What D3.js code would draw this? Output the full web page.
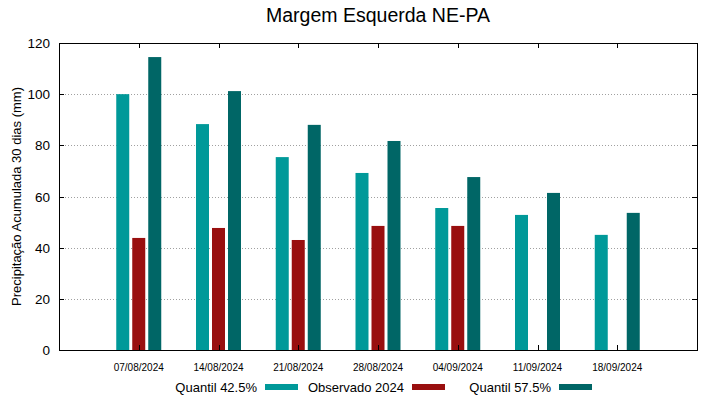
<!DOCTYPE html>
<html>
<head>
<meta charset="utf-8">
<script src="https://cdn.jsdelivr.net/npm/d3@7"></script>
<style>
body { margin: 0; background: #fff; }
text { font-family: "Liberation Sans", Arial, sans-serif; fill: #000; }
</style>
</head>
<body>
<script>
var width = 719,
    height = 399;

var datas = ["07/08/2024", "14/08/2024", "21/08/2024", "28/08/2024", "04/09/2024", "11/09/2024", "18/09/2024"];
var q425 = [100, 88.3, 75.4, 69.2, 55.5, 52.8, 45];
var obs2024 = [43.8, 47.7, 43, 48.5, 48.5, null, null];
var q575 = [114.5, 101.2, 88, 81.7, 67.6, 61.4, 53.6];
var yticks = [0, 20, 40, 60, 80, 100, 120];

var plotL = 59, plotR = 697, plotT = 43, plotB = 350;

var xscale = d3.scaleLinear().domain([-1, 7]).range([plotL, plotR]);
var yscale = d3.scaleLinear().domain([0, 120]).range([plotB, plotT]);

var svg = d3.select("body").append("svg")
    .attr("width", width)
    .attr("height", height);

// grid
svg.append("g").selectAll("line")
    .data(yticks.filter(function(d) { return d > 0 && d < 120; }))
    .enter().append("line")
    .attr("x1", plotL).attr("x2", plotR)
    .attr("y1", function(d) { return Math.round(yscale(d)) + 0.5; })
    .attr("y2", function(d) { return Math.round(yscale(d)) + 0.5; })
    .attr("stroke", "#a0a0a0")
    .attr("stroke-width", 1)
    .attr("stroke-dasharray", "1,2");

var series = [
    { name: "Quantil 42.5%", values: q425, color: "#009999", off: -16 },
    { name: "Observado 2024", values: obs2024, color: "#990f0f", off: 0 },
    { name: "Quantil 57.5%", values: q575, color: "#006666", off: 16 }
];
var bw = 13;

series.forEach(function(s) {
    svg.append("g").selectAll("rect")
        .data(s.values.map(function(v, i) { return { v: v, i: i }; }).filter(function(d) { return d.v != null; }))
        .enter().append("rect")
        .attr("x", function(d) { return xscale(d.i) + s.off - bw / 2; })
        .attr("y", function(d) { return yscale(d.v); })
        .attr("width", bw)
        .attr("height", function(d) { return yscale(0) - yscale(d.v); })
        .attr("fill", s.color);
});

// ticks (inward, mirrored)
var tk = svg.append("g").attr("stroke", "#000").attr("stroke-width", 1);
datas.forEach(function(d, i) {
    var x = Math.round(xscale(i)) + 0.5;
    tk.append("line").attr("x1", x).attr("x2", x).attr("y1", plotT).attr("y2", plotT + 5);
    tk.append("line").attr("x1", x).attr("x2", x).attr("y1", plotB).attr("y2", plotB - 5);
});
yticks.forEach(function(v) {
    var y = Math.round(yscale(v)) + 0.5;
    tk.append("line").attr("x1", plotL).attr("x2", plotL + 5).attr("y1", y).attr("y2", y);
    tk.append("line").attr("x1", plotR).attr("x2", plotR - 5).attr("y1", y).attr("y2", y);
});

// frame
svg.append("rect")
    .attr("x", plotL + 0.5).attr("y", plotT + 0.5)
    .attr("width", plotR - plotL).attr("height", plotB - plotT)
    .attr("fill", "none").attr("stroke", "#000").attr("stroke-width", 1);

// y labels
svg.append("g").selectAll("text")
    .data(yticks).enter().append("text")
    .attr("x", 50)
    .attr("y", function(d) { return yscale(d) + 5; })
    .attr("text-anchor", "end")
    .style("font-size", "13.5px")
    .text(function(d) { return d; });

// x labels
svg.append("g").selectAll("text")
    .data(datas).enter().append("text")
    .attr("x", function(d, i) { return xscale(i); })
    .attr("y", 371)
    .attr("text-anchor", "middle")
    .style("font-size", "10px")
    .text(function(d) { return d; });

svg.append("text")
    .attr("transform", "translate(21," + ((plotT + plotB) / 2) + ") rotate(-90)")
    .attr("text-anchor", "middle")
    .style("font-size", "13px")
    .text("Precipitação Acumulada 30 dias (mm)");

svg.append("text")
    .attr("x", (plotL + plotR) / 2)
    .attr("y", 22)
    .attr("text-anchor", "middle")
    .style("font-size", "19.5px")
    .text("Margem Esquerda NE-PA");

// legend
var legX = [257, 404, 551];
series.forEach(function(s, i) {
    svg.append("text")
        .attr("x", legX[i])
        .attr("y", 392)
        .attr("text-anchor", "end")
        .style("font-size", "13px")
        .text(s.name);
    svg.append("rect")
        .attr("x", legX[i] + 8)
        .attr("y", 384)
        .attr("width", 33)
        .attr("height", 6)
        .attr("fill", s.color);
});
</script>
</body>
</html>
